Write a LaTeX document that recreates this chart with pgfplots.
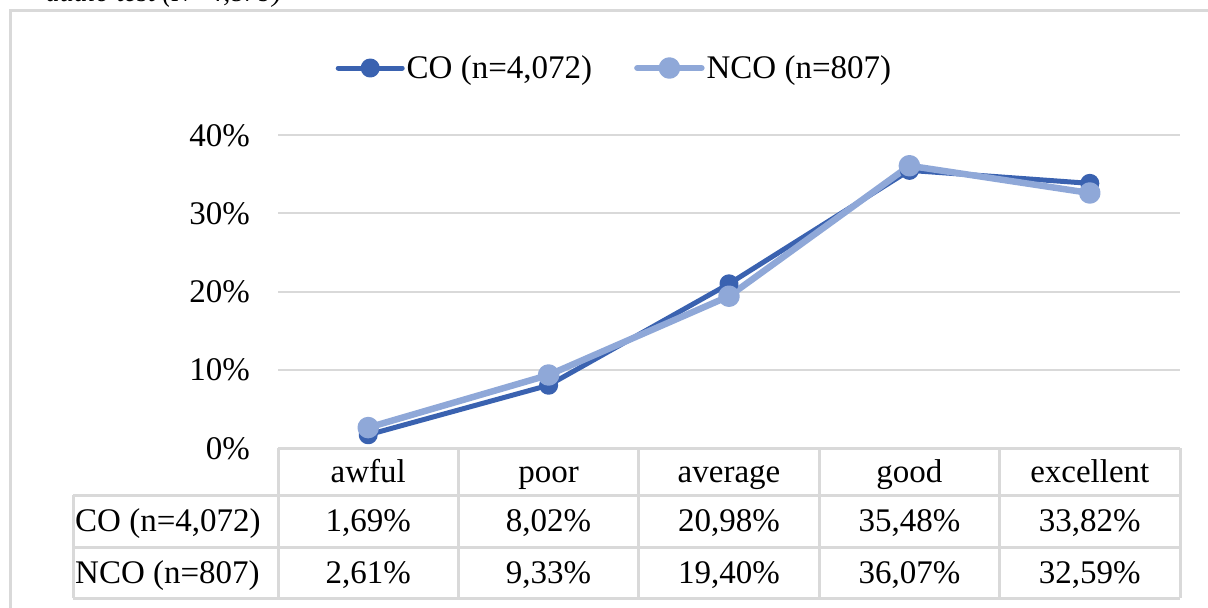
\documentclass[border=0pt]{standalone}
\usepackage{fontspec}
\setmainfont{Liberation Serif}
\usepackage{pgfplots}
\pgfplotsset{compat=1.18}

\definecolor{gridgrey}{HTML}{D9D9D9}
\definecolor{codark}{HTML}{3A62B0}
\definecolor{ncolight}{HTML}{8FA8D8}
\newcommand\chartfont{\fontsize{33bp}{40bp}\selectfont}

\begin{document}
\begin{tikzpicture}
\path[use as bounding box] (0,0) rectangle (1208bp,-608bp);
% chart frame, runs off the page on the right and bottom
\draw[gridgrey, line width=3bp] (10bp,-700bp) -- (10bp,-10bp) -- (1300bp,-10bp);
% caption above the chart, mostly cut off
\node[anchor=base east, inner sep=0, font=\fontsize{28bp}{34bp}\selectfont\itshape] at (282bp,-1.5bp) {audio test (N=4,879)};

\begin{axis}[
  at={(278bp,-448bp)}, anchor=south west,
  scale only axis, width=902bp, height=313bp,
  xmin=-0.5, xmax=4.5, ymin=0, ymax=40,
  xtick={0,...,4},
  xticklabels={awful,poor,average,good,excellent},
  ytick={0,10,20,30,40},
  yticklabel={\pgfmathprintnumber{\tick}\%},
  /pgf/number format/assume math mode=true,
  ymajorgrids, grid style={gridgrey, line width=2bp},
  axis line style={draw=none},
  major tick length=0pt,
  tick label style={font=\chartfont, inner sep=0pt},
  xticklabel style={anchor=base, yshift=-34bp},
  yticklabel style={anchor=base east, xshift=-28bp, yshift=-11bp},
  clip=false,
  legend style={at={(rel axis cs:0.373,1.214)}, anchor=center,
    draw=none, fill=none, font=\chartfont, legend columns=2,
    /tikz/every even column/.append style={column sep=40bp},
    nodes={inner sep=2bp}},
  legend image code/.code={\draw[#1, mark repeat=2, mark phase=2]
    plot coordinates {(0bp,0bp) (32bp,0bp) (64bp,0bp)};},
]
\addplot[codark, line width=5bp, line join=round, line cap=round,
  mark=*, mark size=7bp]
  coordinates {(0,1.69) (1,8.02) (2,20.98) (3,35.48) (4,33.82)};
\addlegendentry{CO (n=4,072)}
\addplot[ncolight, line width=6.5bp, line join=round, line cap=round,
  mark=*, mark size=7.5bp]
  coordinates {(0,2.61) (1,9.33) (2,19.40) (3,36.07) (4,32.59)};
\addlegendentry{NCO (n=807)}

% data table values
\node[anchor=base, font=\chartfont, yshift=-83bp] at (axis cs:0,0) {1,69\%};
\node[anchor=base, font=\chartfont, yshift=-83bp] at (axis cs:1,0) {8,02\%};
\node[anchor=base, font=\chartfont, yshift=-83bp] at (axis cs:2,0) {20,98\%};
\node[anchor=base, font=\chartfont, yshift=-83bp] at (axis cs:3,0) {35,48\%};
\node[anchor=base, font=\chartfont, yshift=-83bp] at (axis cs:4,0) {33,82\%};
\node[anchor=base, font=\chartfont, yshift=-135bp] at (axis cs:0,0) {2,61\%};
\node[anchor=base, font=\chartfont, yshift=-135bp] at (axis cs:1,0) {9,33\%};
\node[anchor=base, font=\chartfont, yshift=-135bp] at (axis cs:2,0) {19,40\%};
\node[anchor=base, font=\chartfont, yshift=-135bp] at (axis cs:3,0) {36,07\%};
\node[anchor=base, font=\chartfont, yshift=-135bp] at (axis cs:4,0) {32,59\%};
\end{axis}

% table borders
\begin{scope}[gridgrey, line width=3bp]
  \draw (278bp,-448bp) -- (1180bp,-448bp);
  \foreach \y in {495,547,598} \draw (73bp,-\y bp) -- (1180bp,-\y bp);
  \draw (73bp,-495bp) -- (73bp,-598bp);
  \foreach \x in {278,458.4,638.8,819.2,999.6,1180} \draw (\x bp,-448bp) -- (\x bp,-598bp);
\end{scope}
\node[anchor=base west, inner sep=0, font=\chartfont] at (75bp,-531bp) {CO (n=4,072)};
\node[anchor=base west, inner sep=0, font=\chartfont] at (75bp,-583bp) {NCO (n=807)};
\end{tikzpicture}
\end{document}
